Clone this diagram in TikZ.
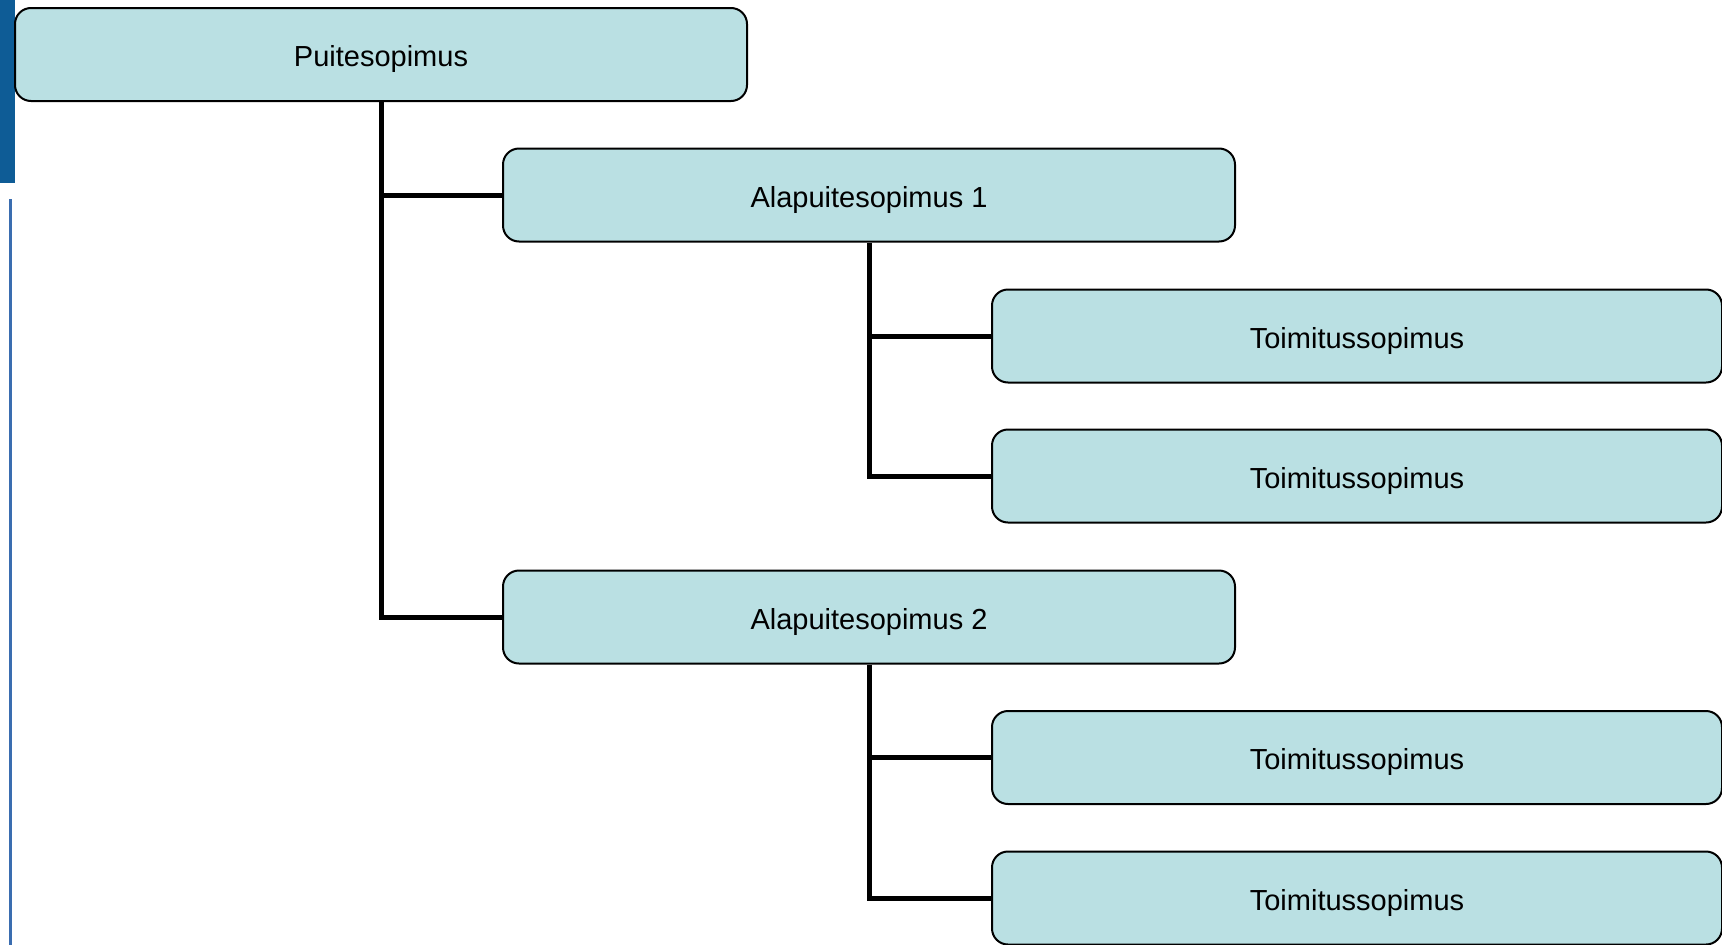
\documentclass[tikz,border=0pt]{standalone}
\usepackage{fontspec}
\setmainfont{Liberation Sans}
\definecolor{boxfill}{RGB}{186,224,227}
\definecolor{barblue}{RGB}{14,92,150}
\definecolor{lineblue}{RGB}{58,109,176}
\tikzset{
  box/.style={draw=black, line width=2pt, fill=boxfill, rounded corners=16pt,
    minimum width=732pt, minimum height=93pt, inner sep=0pt,
    text height=24pt, text depth=0pt,
    font=\fontsize{29pt}{34pt}\selectfont},
  conn/.style={draw=black, line width=5pt}
}
\begin{document}
\begin{tikzpicture}[x=1pt,y=-1pt]
\useasboundingbox (0,0) rectangle (1722,945);
\fill[barblue] (0,0) rectangle (15,183);
\fill[lineblue] (9,199) rectangle (11.5,945);
\node[box] (p) at (381,54.5) {Puitesopimus};
\node[box] (a1) at (869,195) {Alapuitesopimus 1};
\node[box] (a2) at (869,617) {Alapuitesopimus 2};
\node[box, minimum width=730pt] (t1) at (1357,336) {Toimitussopimus};
\node[box, minimum width=730pt] (t2) at (1357,476) {Toimitussopimus};
\node[box, minimum width=730pt] (t3) at (1357,757.5) {Toimitussopimus};
\node[box, minimum width=730pt] (t4) at (1357,898) {Toimitussopimus};
\draw[conn] (p.south) |- (a2.west);
\draw[conn] (p.south |- a1.west) -- (a1.west);
\draw[conn] (a1.south) |- (t2.west);
\draw[conn] (a1.south |- t1.west) -- (t1.west);
\draw[conn] (a2.south) |- (t4.west);
\draw[conn] (a2.south |- t3.west) -- (t3.west);
\end{tikzpicture}
\end{document}
